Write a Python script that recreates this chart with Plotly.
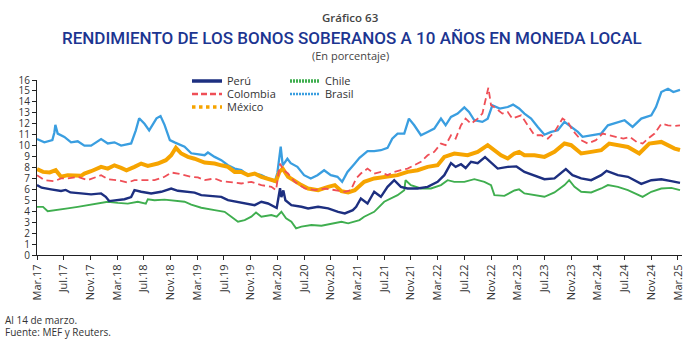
import plotly.graph_objects as go

# Month offsets are counted from March 2017 (0 = Mar.17, 96 = Mar.25); yields in %.
peru_m = [0, 0.7, 2.1, 3.6, 4.3, 5.0, 6.6, 8.1, 9.6, 10.3, 10.8, 12.1, 13.1, 14.1, 14.6, 15.6, 17.1, 18.6,
          20.1, 21.1, 22.6, 23.6, 24.6, 26.1, 27.6, 28.6, 30.1, 31.6, 32.6, 33.6, 34.6, 35.9, 36.4, 36.6,
          36.9, 37.2, 38.1, 39.6, 40.6, 42.1, 43.6, 45.1, 46.1, 47.3, 47.8, 48.5, 49.5, 50.5, 51.5, 52.5,
          53.5, 54.5, 55.5, 57.0, 58.5, 60.0, 61.0, 62.0, 62.7, 63.5, 64.2, 65.0, 66.0, 67.1, 68.2, 69.0,
          70.5, 71.8, 73.0, 74.5, 76.0, 77.5, 79.2, 80.2, 81.5, 83.0, 84.5, 85.3, 87.0, 88.5, 90.5, 92.0,
          93.5, 95.0, 96.3]
peru_v = [6.4, 6.15, 6.0, 5.85, 5.95, 5.72, 5.63, 5.54, 5.63, 5.32, 4.93, 5.02, 5.1, 5.3, 5.93, 5.78, 5.63, 5.78,
          6.08, 5.87, 5.78, 5.7, 5.47, 5.41, 5.32, 5.02, 4.87, 4.71, 4.56, 4.87, 4.71, 4.3, 6.1, 5.3,
          5.9, 5.0, 4.56, 4.41, 4.26, 4.41, 4.26, 3.95, 3.8, 4.1, 4.4, 5.17, 4.71, 5.78, 5.32, 6.23,
          6.84, 6.23, 6.08, 6.08, 6.23, 6.69, 7.3, 8.4, 8.06, 8.3, 7.95, 8.52, 8.4, 8.95, 8.3, 7.9,
          8.06, 8.1, 7.6, 7.3, 6.93, 7.0, 7.85, 7.3, 7.0, 6.84, 7.3, 7.7, 7.3, 7.15, 6.5, 6.84,
          6.93, 6.75, 6.6]

colombia_m = [0, 1.1, 2.6, 3.6, 4.6, 6.1, 7.6, 9.1, 9.6, 10.6, 12.1, 13.6, 14.6, 16.1, 17.6, 19.1, 20.1, 21.1,
              22.1, 23.1, 24.1, 25.1, 26.6, 27.6, 28.6, 30.6, 32.1, 33.6, 35.1, 35.8, 36.4, 36.9, 37.6, 38.6,
              40.1, 41.6, 43.1, 44.6, 46.1, 47.0, 47.8, 48.5, 49.5, 50.5, 51.5, 52.5, 53.5, 54.5, 55.5, 56.5,
              57.5, 58.5, 59.5, 60.5, 61.2, 62.0, 62.7, 63.5, 64.2, 65.0, 66.0, 66.7, 67.3, 67.6, 68.0, 68.8,
              69.7, 70.5, 71.2, 72.0, 72.5, 73.5, 74.5, 75.5, 76.5, 77.5, 78.7, 79.5, 80.2, 81.5, 82.5, 83.7,
              84.7, 85.7, 86.7, 87.8, 88.8, 89.8, 90.7, 91.5, 92.5, 93.5, 94.5, 95.5, 96.3]
colombia_v = [7.3, 6.84, 6.75, 7.0, 7.0, 7.15, 6.84, 7.15, 7.3, 6.93, 6.84, 6.63, 6.84, 6.84, 6.84, 7.15, 7.54, 7.45,
              7.3, 7.15, 7.1, 6.84, 7.0, 6.75, 6.69, 6.54, 6.69, 6.39, 6.23, 5.93, 8.36, 7.75, 7.45, 6.69,
              6.08, 5.93, 6.08, 5.93, 5.78, 5.93, 7.0, 7.45, 7.9, 7.45, 7.6, 7.3, 7.6, 7.75, 7.9, 8.21,
              8.52, 9.12, 9.43, 10.19, 10.04, 10.95, 10.64, 11.86, 12.47, 12.0, 12.47, 12.93, 14.4, 15.3, 13.69, 13.38,
              12.93, 13.08, 12.47, 12.7, 12.77, 11.86, 10.95, 10.95, 10.64, 11.25, 12.47, 12.17, 11.4, 10.5, 10.19, 10.5,
              11.1, 10.95, 10.8, 10.64, 10.8, 10.34, 10.19, 10.64, 11.1, 12.0, 11.86, 11.8, 11.86]

mexico_m = [0, 0.9, 1.9, 2.8, 3.6, 4.6, 6.6, 7.1, 8.1, 9.6, 10.6, 11.6, 12.6, 13.4, 14.6, 15.6, 16.6, 18.1,
            19.3, 20.1, 20.8, 21.6, 22.6, 23.6, 25.1, 26.6, 27.6, 28.6, 29.6, 30.6, 31.6, 32.6, 33.6, 34.6,
            35.8, 36.3, 36.8, 37.6, 38.6, 39.6, 40.6, 42.1, 43.6, 44.6, 45.6, 46.6, 47.6, 48.3, 49.0, 50.5,
            52.5, 54.0, 55.5, 57.0, 58.5, 60.0, 61.0, 62.5, 64.5, 66.0, 67.5, 68.5, 69.5, 70.5, 71.5, 72.2,
            73.0, 74.5, 76.0, 77.5, 79.0, 80.0, 81.5, 83.0, 84.5, 85.7, 87.0, 88.5, 90.2, 91.7, 93.5, 94.5,
            95.5, 96.3]
mexico_v = [7.85, 7.6, 7.55, 7.75, 7.15, 7.3, 7.24, 7.45, 7.66, 8.06, 7.9, 8.2, 7.97, 7.75, 8.06, 8.36, 8.15, 8.36,
            8.67, 9.12, 9.8, 9.28, 8.97, 8.8, 8.45, 8.36, 8.2, 8.06, 7.6, 7.6, 7.3, 7.45, 7.15, 7.0,
            6.75, 7.6, 7.9, 7.15, 6.75, 6.39, 6.08, 5.93, 6.23, 6.39, 5.84, 5.72, 5.93, 6.3, 6.69, 7.0,
            7.15, 7.3, 7.6, 7.75, 8.06, 8.21, 8.97, 9.28, 9.12, 9.43, 10.04, 9.58, 9.12, 8.82, 9.28, 9.43,
            9.12, 9.12, 8.97, 9.43, 10.19, 10.04, 9.28, 9.43, 9.58, 10.19, 10.04, 9.88, 9.28, 10.19, 10.34, 10.04,
            9.73, 9.6]

chile_m = [0, 0.9, 1.6, 3.1, 4.6, 6.1, 7.6, 9.1, 10.6, 12.1, 13.6, 15.1, 16.3, 16.6, 17.6, 19.1, 20.6, 22.1,
           23.1, 24.6, 26.6, 28.1, 29.1, 30.1, 31.1, 32.1, 32.8, 33.6, 35.1, 35.9, 36.6, 37.3, 38.1, 38.8,
           39.6, 41.1, 42.6, 44.1, 45.6, 46.6, 47.5, 48.3, 49.0, 50.5, 52.0, 53.0, 54.0, 55.0, 55.2, 56.0,
           57.5, 59.0, 60.5, 61.5, 62.5, 64.0, 65.5, 67.0, 68.0, 68.5, 70.0, 71.5, 72.2, 73.0, 74.5, 76.0,
           77.5, 79.0, 79.7, 80.5, 81.5, 83.0, 84.5, 85.5, 87.0, 88.5, 90.7, 92.0, 93.5, 95.0, 96.3]
chile_v = [4.4, 4.4, 4.0, 4.1, 4.26, 4.4, 4.56, 4.7, 4.87, 4.77, 4.7, 4.87, 4.7, 5.1, 5.0, 5.06, 4.96, 4.87,
           4.6, 4.32, 4.1, 3.95, 3.5, 3.04, 3.19, 3.5, 3.89, 3.5, 3.65, 3.5, 3.95, 3.35, 3.04, 2.43,
           2.59, 2.74, 2.68, 2.89, 3.04, 2.89, 3.04, 3.19, 3.5, 3.95, 4.87, 5.2, 5.47, 5.93, 6.84, 6.39,
           6.08, 6.08, 6.39, 6.84, 6.69, 6.69, 6.93, 6.69, 6.39, 5.47, 5.41, 5.9, 6.0, 5.63, 5.47, 5.32,
           5.72, 6.39, 6.84, 6.23, 5.78, 5.72, 6.08, 6.39, 6.23, 5.93, 5.32, 5.78, 6.08, 6.14, 5.93]

brasil_m = [0, 1.1, 2.3, 2.6, 2.75, 3.1, 4.1, 5.1, 6.1, 7.1, 8.1, 9.6, 10.6, 11.6, 12.6, 14.1, 14.8, 15.3,
            16.1, 16.8, 17.9, 18.5, 19.1, 19.9, 20.6, 22.1, 23.1, 24.1, 25.1, 25.6, 26.6, 27.6, 28.6, 29.6,
            30.6, 31.6, 32.6, 33.6, 34.6, 35.6, 36.0, 36.3, 36.5, 36.8, 37.5, 38.0, 39.0, 40.0, 41.0, 42.0,
            43.0, 44.0, 45.0, 45.7, 46.5, 47.5, 48.3, 49.5, 50.5, 51.5, 52.5, 53.2, 54.0, 55.0, 55.7, 56.5,
            57.5, 58.5, 59.5, 60.5, 61.2, 62.0, 63.0, 64.0, 64.7, 65.5, 66.7, 67.5, 68.2, 69.3, 70.5, 71.3,
            72.2, 73.0, 74.0, 75.0, 76.0, 77.0, 78.0, 79.0, 80.0, 81.0, 81.7, 83.0, 84.5, 85.5, 87.0, 88.0,
            89.2, 90.5, 92.0, 92.7, 93.5, 94.5, 95.3, 96.3]
brasil_v = [10.6, 10.3, 10.5, 11.2, 11.9, 11.1, 10.8, 10.3, 10.4, 10.0, 10.0, 10.6, 10.2, 10.3, 10.0, 10.2, 11.4, 12.5,
            12.0, 11.4, 12.5, 12.7, 11.9, 10.5, 10.3, 9.9, 9.3, 9.2, 9.12, 9.37, 8.97, 8.67, 8.21, 7.9,
            7.76, 7.3, 7.45, 7.3, 7.0, 6.7, 7.5, 9.0, 9.9, 8.2, 8.8, 8.4, 8.06, 7.3, 7.0, 7.3,
            7.75, 7.3, 7.15, 6.7, 7.6, 8.3, 8.88, 9.5, 9.49, 9.58, 9.79, 10.64, 11.1, 11.1, 12.47, 11.86,
            10.95, 11.25, 11.56, 12.47, 11.86, 12.62, 12.93, 13.5, 13.08, 12.32, 12.17, 12.47, 13.69, 13.38, 13.53, 13.75,
            13.4, 12.93, 12.47, 11.71, 11.0, 11.25, 11.4, 12.17, 11.71, 11.25, 10.8, 10.95, 11.1, 11.86, 12.17, 12.32,
            11.71, 12.47, 12.77, 13.53, 14.9, 15.2, 14.9, 15.1]

tick_months = list(range(0, 97, 4))
tick_labels = ["Mar.17", "Jul.17", "Nov.17", "Mar.18", "Jul.18", "Nov.18", "Mar.19", "Jul.19", "Nov.19",
               "Mar.20", "Jul.20", "Nov.20", "Mar.21", "Jul.21", "Nov.21", "Mar.22", "Jul.22", "Nov.22",
               "Mar.23", "Jul.23", "Nov.23", "Mar.24", "Jul.24", "Nov.24", "Mar.25"]

C_PERU = "#1d2f80"
C_COL = "#ef4f57"
C_MEX = "#f6a400"
C_CHI = "#3fae4f"
C_BRA = "#3a9ee0"

FONT = "Open Sans"
TXT = "#333333"

fig = go.Figure()

# chart lines (drawn back to front)
fig.add_trace(go.Scatter(x=brasil_m, y=brasil_v, mode="lines", showlegend=False,
                         line=dict(color=C_BRA, width=2.3)))
fig.add_trace(go.Scatter(x=chile_m, y=chile_v, mode="lines", showlegend=False,
                         line=dict(color=C_CHI, width=1.9)))
fig.add_trace(go.Scatter(x=mexico_m, y=mexico_v, mode="lines", showlegend=False,
                         line=dict(color=C_MEX, width=4.0)))
fig.add_trace(go.Scatter(x=colombia_m, y=colombia_v, mode="lines", showlegend=False,
                         line=dict(color=C_COL, width=1.8, dash="7px,4px")))
fig.add_trace(go.Scatter(x=peru_m, y=peru_v, mode="lines", showlegend=False,
                         line=dict(color=C_PERU, width=2.4)))

# legend entries, one small legend box per series
legend_items = [
    ("Perú", C_PERU, 3.5, "solid", "legend"),
    ("Colombia", C_COL, 2.5, "6px,3px", "legend2"),
    ("México", C_MEX, 3.5, "dot", "legend3"),
    ("Chile", C_CHI, 3.5, "2px,1px", "legend4"),
    ("Brasil", C_BRA, 2.5, "2px,1px", "legend5"),
]
for name, col, w, dash, lg in legend_items:
    fig.add_trace(go.Scatter(x=[None], y=[None], mode="lines", name=name, legend=lg,
                             line=dict(color=col, width=w, dash=dash)))

# plot area: 37..682 px horizontally, 80..255 px vertically
def py(pix):
    return (255 - pix) / 175.0

def px(pix):
    return (pix - 37) / 645.0

def legend_box(x, y):
    return dict(x=x, y=y, xanchor="left", yanchor="middle", bgcolor="rgba(0,0,0,0)",
                font=dict(family=FONT, size=11, color=TXT), itemwidth=30,
                borderwidth=0, tracegroupgap=0)

fig.update_layout(
    width=700, height=346,
    margin=dict(l=37, r=18, t=80, b=91),
    paper_bgcolor="white", plot_bgcolor="white",
    legend=legend_box(px(187), py(81)),
    legend2=legend_box(px(187), py(94)),
    legend3=legend_box(px(187), py(107)),
    legend4=legend_box(px(285), py(81)),
    legend5=legend_box(px(285), py(94)),
    xaxis=dict(range=[0, 96.6], tickmode="array", tickvals=tick_months, ticktext=tick_labels,
               tickangle=-90, ticks="outside", ticklen=4, tickcolor="#222", showline=True,
               linecolor="#222", linewidth=1, showgrid=False, zeroline=False,
               tickfont=dict(family=FONT, size=11, color=TXT)),
    yaxis=dict(range=[0, 16], dtick=1, ticks="outside", ticklen=4, tickcolor="#222",
               showline=True, linecolor="#222", linewidth=1, showgrid=False, zeroline=False,
               tickfont=dict(family=FONT, size=10, color=TXT)),
    annotations=[
        dict(text="Gráfico 63", x=px(350), y=py(18), xref="paper", yref="paper",
             showarrow=False, xanchor="center", yanchor="middle",
             font=dict(family=FONT, size=11.5, color="#444444", weight=600)),
        dict(text="RENDIMIENTO DE LOS BONOS SOBERANOS A 10 AÑOS EN MONEDA LOCAL",
             x=px(352), y=py(38), xref="paper", yref="paper", showarrow=False,
             xanchor="center", yanchor="middle",
             font=dict(family="Roboto", size=17, color="#1c3591", weight=500)),
        dict(text="(En porcentaje)", x=px(350), y=py(55), xref="paper", yref="paper",
             showarrow=False, xanchor="center", yanchor="middle",
             font=dict(family=FONT, size=11, color="#444444")),
        dict(text="Al 14 de marzo.", x=px(3), y=py(320), xref="paper", yref="paper",
             showarrow=False, xanchor="left", yanchor="middle",
             font=dict(family=FONT, size=10, color=TXT)),
        dict(text="Fuente: MEF y Reuters.", x=px(3), y=py(332), xref="paper", yref="paper",
             showarrow=False, xanchor="left", yanchor="middle",
             font=dict(family=FONT, size=10, color=TXT)),
    ],
)

fig.write_html("out.html")
